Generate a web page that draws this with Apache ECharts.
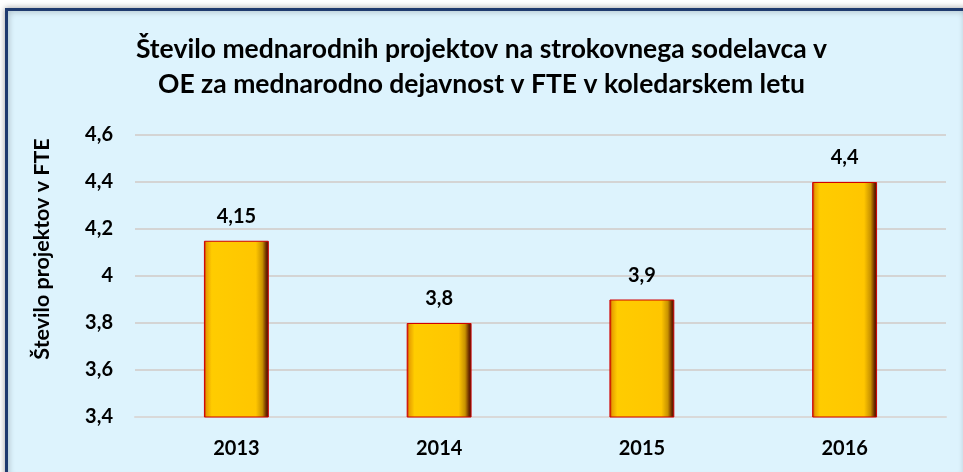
<!DOCTYPE html>
<html>
<head>
<meta charset="utf-8">
<script src="https://cdn.jsdelivr.net/npm/echarts@6/dist/echarts.min.js"></script>
<style>
  html, body { margin: 0; padding: 0; background: #ffffff; }
  #main { width: 963px; height: 472px; }
</style>
</head>
<body>
<div id="main"></div>
<script>
// podatki
var years = ['2013', '2014', '2015', '2016'];
var projekti = [4.15, 3.8, 3.9, 4.4];
var yMin = 3.4, yMax = 4.6, yStep = 0.2;

var font = 'Lato, "Open Sans", sans-serif';
var myChart = echarts.init(document.getElementById('main'));

var option = {
    backgroundColor: '#ffffff',
    // okvir grafa
    graphic: [{
        type: 'rect',
        z: -10,
        shape: { x: 6.5, y: 9.5, width: 960, height: 470 },
        style: {
            fill: '#ddf3fd',
            stroke: '#1f3a6e',
            lineWidth: 3,
            shadowBlur: 6,
            shadowColor: 'rgba(0,0,0,0.35)'
        }
    }],
    title: {
        text: 'Število mednarodnih projektov na strokovnega sodelavca v\nOE za mednarodno dejavnost v FTE v koledarskem letu',
        left: 'center',
        top: 27,
        textStyle: {
            fontFamily: font,
            fontSize: 26.5,
            fontWeight: 'bold',
            color: '#000000',
            lineHeight: 35
        }
    },
    grid: {
        left: 135,
        right: 17,
        top: 135,
        bottom: 55
    },
    xAxis: {
        type: 'category',
        data: years,
        axisLine: { show: true, lineStyle: { color: '#d9d9d9', width: 2 } },
        axisTick: { show: false },
        axisLabel: {
            fontFamily: font,
            fontSize: 20,
            fontWeight: 'bold',
            color: '#000000',
            margin: 22
        }
    },
    yAxis: {
        type: 'value',
        min: yMin,
        max: yMax,
        interval: yStep,
        name: 'Število projektov v FTE',
        nameLocation: 'middle',
        nameGap: 82,
        nameTextStyle: {
            fontFamily: font,
            fontSize: 21.5,
            fontWeight: 'bold',
            color: '#000000',
            padding: [0, 0, 0, 54]
        },
        axisLine: { show: false },
        axisTick: { show: false },
        splitLine: { lineStyle: { color: '#d4d4d4', width: 2 } },
        axisLabel: {
            fontFamily: font,
            fontSize: 20,
            fontWeight: 'bold',
            color: '#000000',
            margin: 22,
            formatter: function (v) {
                return (Math.round(v * 10) / 10).toString().replace('.', ',');
            }
        }
    },
    series: [{
        type: 'bar',
        data: projekti,
        barWidth: '32%',
        itemStyle: {
            color: new echarts.graphic.LinearGradient(0, 0, 1, 0, [
                { offset: 0, color: '#c00000' },
                { offset: 0.04, color: '#e8a000' },
                { offset: 0.12, color: '#ffcc00' },
                { offset: 0.8, color: '#ffc600' },
                { offset: 0.9, color: '#c89200' },
                { offset: 0.96, color: '#6b2a00' },
                { offset: 1, color: '#4a0a00' }
            ]),
            borderColor: '#d00000',
            borderWidth: 1
        },
        label: {
            show: true,
            position: 'top',
            distance: 14,
            fontFamily: font,
            fontSize: 20,
            fontWeight: 'bold',
            color: '#000000',
            formatter: function (p) {
                return String(p.value).replace('.', ',');
            }
        }
    }]
};

myChart.setOption(option);
</script>
</body>
</html>
